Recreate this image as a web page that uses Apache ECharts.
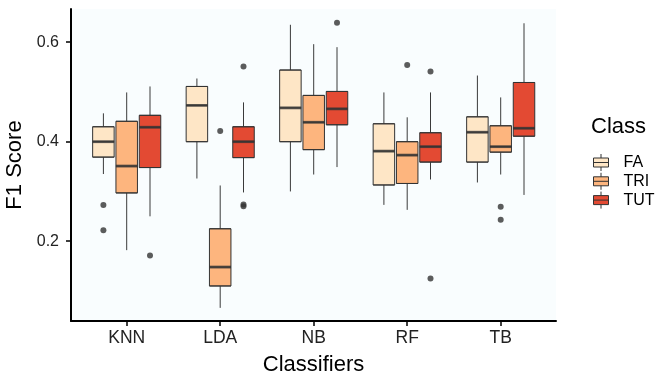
<!DOCTYPE html>
<html>
<head>
<meta charset="utf-8">
<script src="https://cdn.jsdelivr.net/npm/echarts@6/dist/echarts.min.js"></script>
<style>
  html, body { margin: 0; padding: 0; background: #fff; }
  #chart { width: 660px; height: 376px; }
</style>
</head>
<body>
<div id="chart"></div>
<script>
// data
var categories = ['KNN', 'LDA', 'NB', 'RF', 'TB'];
var classes = ['FA', 'TRI', 'TUT'];
var classColors = ['#FEE6C6', '#FDB57E', '#E34A33'];
var yTicks = [0.2, 0.4, 0.6];

// [min, Q1, median, Q3, max] per classifier
var faStats = [
  [0.335, 0.369, 0.400, 0.430, 0.457],
  [0.326, 0.400, 0.473, 0.511, 0.527],
  [0.300, 0.400, 0.468, 0.544, 0.635],
  [0.273, 0.313, 0.381, 0.436, 0.499],
  [0.318, 0.359, 0.419, 0.450, 0.533]
];
var triStats = [
  [0.182, 0.297, 0.351, 0.441, 0.499],
  [0.066, 0.110, 0.148, 0.225, 0.312],
  [0.334, 0.384, 0.439, 0.493, 0.596],
  [0.263, 0.316, 0.373, 0.400, 0.449],
  [0.334, 0.379, 0.390, 0.432, 0.489]
];
var tutStats = [
  [0.250, 0.348, 0.429, 0.453, 0.511],
  [0.298, 0.368, 0.400, 0.430, 0.479],
  [0.349, 0.434, 0.466, 0.501, 0.590],
  [0.324, 0.359, 0.390, 0.418, 0.499],
  [0.293, 0.411, 0.427, 0.519, 0.638]
];

var faOutliers = [['KNN', 0.273], ['KNN', 0.222]];
var triOutliers = [['LDA', 0.4215], ['RF', 0.554], ['TB', 0.269], ['TB', 0.243]];
var tutOutliers = [['KNN', 0.171], ['LDA', 0.551], ['LDA', 0.270], ['LDA', 0.274],
  ['NB', 0.639], ['RF', 0.541], ['RF', 0.125]];

var allStats = [faStats, triStats, tutStats];
var allOutliers = [faOutliers, triOutliers, tutOutliers];

var yMin = 0.0396, yMax = 0.6667;
var dodge = [-23.3, 0, 23.3];
var boxW = 21.5;
var font = 'Liberation Sans';

var chart = echarts.init(document.getElementById('chart'));

// grid 0 is the panel frame, then a whisker grid and a box grid per class
var grids = [{
  left: 71, right: 104, top: 9, bottom: 55, outerBoundsMode: 'none', containLabel: false,
  show: true, backgroundColor: '#F9FDFE', borderWidth: 0
}];
var xAxes = [{
  type: 'value', gridIndex: 0, min: 0, max: 1,
  axisLine: { show: true, lineStyle: { color: '#000', width: 2 } },
  axisTick: { show: false }, axisLabel: { show: false }, splitLine: { show: false },
  name: 'Classifiers', nameLocation: 'middle', nameGap: 33,
  nameTextStyle: { fontSize: 22, color: '#000', fontFamily: font }
}];
var yAxes = [{
  type: 'value', gridIndex: 0, min: yMin, max: yMax,
  axisLine: { show: true, lineStyle: { color: '#000', width: 2 } },
  axisTick: { show: true, customValues: yTicks, length: 5, lineStyle: { color: '#000', width: 1.5 } },
  axisLabel: {
    customValues: yTicks, margin: 12, fontSize: 16, color: '#222', fontFamily: font,
    formatter: function (v) { return v.toFixed(1); }
  },
  splitLine: { show: false },
  name: 'F1 Score', nameLocation: 'middle', nameGap: 38,
  nameTextStyle: { fontSize: 22, color: '#000', fontFamily: font }
}];
var series = [];

classes.forEach(function (cls, k) {
  var stats = allStats[k];
  [0, 1].forEach(function (part) {
    var gi = grids.length;
    grids.push({
      left: 79.95 + dodge[k], right: 112.55 - dodge[k], top: 9, bottom: 55,
      outerBoundsMode: 'none', containLabel: false
    });
    var showAxis = part === 1 && k === 1;
    xAxes.push({
      type: 'category', gridIndex: gi, data: categories, boundaryGap: true,
      axisLine: { show: false },
      axisTick: { show: showAxis, alignWithLabel: true, length: 5, lineStyle: { color: '#000', width: 1.5 } },
      axisLabel: { show: showAxis, margin: 8, fontSize: 17.5, color: '#222', fontFamily: font },
      splitLine: { show: false }
    });
    yAxes.push({ type: 'value', gridIndex: gi, min: yMin, max: yMax, show: false, splitLine: { show: false } });

    if (part === 0) {
      // whiskers
      series.push({
        type: 'boxplot', name: cls + ' whisker', xAxisIndex: gi, yAxisIndex: gi,
        boxWidth: [0, 0], silent: true, z: 1,
        itemStyle: { color: 'none', borderColor: '#3a3a3a', borderWidth: 1 },
        data: stats
      });
    } else {
      // boxes
      series.push({
        type: 'boxplot', name: cls, xAxisIndex: gi, yAxisIndex: gi,
        boxWidth: [boxW, boxW], silent: true, z: 2,
        itemStyle: { color: classColors[k], borderColor: '#333', borderWidth: 1 },
        data: stats.map(function (s) { return [s[1], s[1], s[2], s[3], s[3]]; })
      });
      // thick median
      series.push({
        type: 'scatter', name: cls + ' median', xAxisIndex: gi, yAxisIndex: gi,
        symbol: 'rect', symbolSize: [boxW, 2.8], silent: true, z: 3,
        itemStyle: { color: '#333' },
        data: stats.map(function (s, i) { return [categories[i], s[2]]; })
      });
      // outliers
      series.push({
        type: 'scatter', name: cls + ' outlier', xAxisIndex: gi, yAxisIndex: gi,
        symbol: 'circle', symbolSize: 6, silent: true, z: 3,
        itemStyle: { color: '#333' },
        data: allOutliers[k]
      });
    }
  });
});

var keyIcon = 'path://M1,4H16V13H1Z M1,8.5H16 M8.5,0V4 M8.5,13V17';

var option = {
  animation: false,
  textStyle: { fontFamily: font },
  title: {
    text: 'Class', left: 591, top: 116, padding: 0,
    textStyle: { fontSize: 22, fontWeight: 'normal', color: '#000', fontFamily: font }
  },
  legend: {
    orient: 'vertical', left: 593, top: 153.5, padding: 0,
    itemWidth: 17, itemHeight: 17, itemGap: 0.8, selectedMode: false,
    textStyle: { fontSize: 16, color: '#000', fontFamily: font, padding: [0, 0, 0, 9] },
    data: classes.map(function (c, k) {
      return {
        name: c, icon: keyIcon,
        itemStyle: { color: classColors[k], borderColor: '#333', borderWidth: 1 }
      };
    })
  },
  grid: grids,
  xAxis: xAxes,
  yAxis: yAxes,
  series: series
};

chart.setOption(option);
</script>
</body>
</html>
